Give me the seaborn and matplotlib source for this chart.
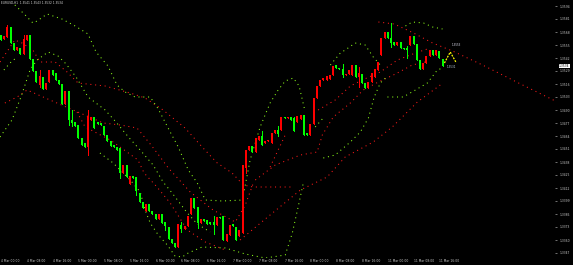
import numpy as np
import pandas as pd
import matplotlib
matplotlib.use("Agg")
import matplotlib.pyplot as plt
import seaborn as sns

# ---------------- data ----------------
opens = [1.3565,1.3561,1.3563,1.3573,1.3557,1.3550,1.3552,1.3546,1.3560,1.3565,
         1.3541,1.3529,1.3515,1.3523,1.3511,1.3518,1.3530,1.3527,1.3520,1.3516,
         1.3496,1.3509,1.3480,1.3478,1.3475,1.3462,1.3457,1.3453,1.3480,1.3483,
         1.3478,1.3477,1.3474,1.3465,1.3459,1.3455,1.3453,1.3452,1.3427,1.3435,
         1.3416,1.3424,1.3423,1.3407,1.3398,1.3389,1.3396,1.3389,1.3386,1.3381,
         1.3386,1.3378,1.3373,1.3361,1.3357,1.3353,1.3375,1.3371,1.3374,1.3386,
         1.3402,1.3393,1.3377,1.3381,1.3380,1.3378,1.3378,1.3375,1.3383,1.3384,
         1.3359,1.3365,1.3376,1.3373,1.3364,1.3367,1.3432,1.3450,1.3454,1.3448,
         1.3460,1.3464,1.3457,1.3459,1.3457,1.3467,1.3470,1.3470,1.3483,1.3482,
         1.3483,1.3482,1.3478,1.3481,1.3485,1.3467,1.3465,1.3476,1.3502,1.3514,
         1.3520,1.3520,1.3521,1.3525,1.3535,1.3532,1.3531,1.3525,1.3526,1.3525,
         1.3535,1.3523,1.3526,1.3517,1.3512,1.3518,1.3523,1.3530,1.3545,1.3562,
         1.3568,1.3562,1.3558,1.3555,1.3558,1.3552,1.3552,1.3555,1.3564,1.3556,
         1.3540,1.3531,1.3537,1.3544,1.3550,1.3545,1.3549,1.3541]
closes = [1.3560,1.3564,1.3573,1.3557,1.3550,1.3553,1.3546,1.3561,1.3565,1.3541,
          1.3529,1.3518,1.3524,1.3511,1.3517,1.3530,1.3525,1.3520,1.3516,1.3496,
          1.3509,1.3480,1.3477,1.3474,1.3462,1.3455,1.3453,1.3484,1.3483,1.3472,
          1.3476,1.3475,1.3465,1.3459,1.3454,1.3453,1.3450,1.3427,1.3435,1.3423,
          1.3424,1.3422,1.3409,1.3398,1.3392,1.3396,1.3389,1.3386,1.3381,1.3386,
          1.3377,1.3374,1.3361,1.3357,1.3353,1.3376,1.3371,1.3374,1.3384,1.3402,
          1.3392,1.3377,1.3381,1.3379,1.3376,1.3376,1.3375,1.3383,1.3382,1.3360,
          1.3366,1.3375,1.3374,1.3360,1.3370,1.3435,1.3450,1.3454,1.3448,1.3462,
          1.3464,1.3455,1.3459,1.3460,1.3467,1.3470,1.3466,1.3483,1.3482,1.3483,
          1.3480,1.3469,1.3484,1.3485,1.3465,1.3465,1.3476,1.3502,1.3514,1.3520,
          1.3522,1.3524,1.3525,1.3534,1.3532,1.3531,1.3525,1.3526,1.3530,1.3535,
          1.3523,1.3527,1.3517,1.3512,1.3518,1.3527,1.3531,1.3538,1.3562,1.3568,
          1.3562,1.3557,1.3555,1.3558,1.3552,1.3551,1.3550,1.3564,1.3556,1.3540,
          1.3531,1.3537,1.3544,1.3550,1.3545,1.3550,1.3542,1.3534]
highs = [1.3565,1.3564,1.3575,1.3573,1.3557,1.3553,1.3552,1.3565,1.3565,1.3565,
         1.3541,1.3529,1.3530,1.3523,1.3517,1.3530,1.3530,1.3527,1.3520,1.3516,
         1.3509,1.3509,1.3490,1.3478,1.3475,1.3462,1.3457,1.3490,1.3483,1.3483,
         1.3478,1.3477,1.3474,1.3465,1.3459,1.3455,1.3453,1.3452,1.3435,1.3435,
         1.3424,1.3424,1.3423,1.3407,1.3398,1.3396,1.3396,1.3389,1.3386,1.3386,
         1.3386,1.3378,1.3373,1.3361,1.3357,1.3376,1.3378,1.3374,1.3384,1.3402,
         1.3402,1.3393,1.3381,1.3381,1.3380,1.3378,1.3384,1.3383,1.3383,1.3384,
         1.3366,1.3375,1.3376,1.3373,1.3370,1.3435,1.3450,1.3454,1.3454,1.3462,
         1.3464,1.3469,1.3459,1.3460,1.3467,1.3470,1.3474,1.3483,1.3483,1.3483,
         1.3483,1.3483,1.3484,1.3485,1.3485,1.3467,1.3476,1.3502,1.3514,1.3520,
         1.3522,1.3524,1.3525,1.3534,1.3535,1.3532,1.3536,1.3526,1.3530,1.3535,
         1.3535,1.3533,1.3526,1.3517,1.3518,1.3527,1.3531,1.3538,1.3562,1.3568,
         1.3568,1.3577,1.3558,1.3558,1.3558,1.3552,1.3554,1.3564,1.3564,1.3556,
         1.3540,1.3537,1.3544,1.3550,1.3550,1.3550,1.3549,1.3541]
lows = [1.3560,1.3561,1.3563,1.3557,1.3550,1.3550,1.3546,1.3546,1.3560,1.3541,
        1.3529,1.3518,1.3513,1.3511,1.3511,1.3518,1.3525,1.3520,1.3516,1.3496,
        1.3496,1.3475,1.3474,1.3474,1.3462,1.3455,1.3453,1.3445,1.3480,1.3472,
        1.3476,1.3475,1.3465,1.3459,1.3454,1.3453,1.3450,1.3422,1.3427,1.3423,
        1.3416,1.3422,1.3405,1.3398,1.3392,1.3389,1.3389,1.3386,1.3381,1.3381,
        1.3377,1.3370,1.3361,1.3357,1.3353,1.3353,1.3368,1.3371,1.3374,1.3386,
        1.3392,1.3372,1.3377,1.3379,1.3376,1.3376,1.3366,1.3375,1.3382,1.3360,
        1.3359,1.3365,1.3374,1.3360,1.3364,1.3367,1.3427,1.3450,1.3448,1.3448,
        1.3460,1.3455,1.3457,1.3459,1.3457,1.3467,1.3464,1.3470,1.3482,1.3482,
        1.3480,1.3469,1.3478,1.3481,1.3465,1.3465,1.3465,1.3476,1.3502,1.3514,
        1.3520,1.3520,1.3521,1.3525,1.3532,1.3531,1.3523,1.3525,1.3526,1.3525,
        1.3523,1.3513,1.3517,1.3512,1.3512,1.3518,1.3523,1.3530,1.3545,1.3562,
        1.3562,1.3553,1.3555,1.3555,1.3552,1.3551,1.3542,1.3555,1.3556,1.3540,
        1.3531,1.3531,1.3537,1.3544,1.3545,1.3545,1.3542,1.3534]

# indicator lines: (bar, price)
red_line_1 = [(-0.3,1.3538),(4.3,1.3560),(6.5,1.3557),(9.9,1.3550),(12.1,1.3538),(16.8,1.3538),
              (20.5,1.3528),(23.9,1.3517),(32.3,1.3514),(40.1,1.3507),(44.7,1.3502),(50.3,1.3490),
              (57.1,1.3472),(62.7,1.3452),(67.1,1.3437),(71.7,1.3427),(75.2,1.3415),(78.3,1.3413),
              (89.8,1.3413)]
red_line_2 = [(1.2,1.3497),(5.0,1.3503),(8.1,1.3510),(15.2,1.3500),(31.7,1.3477),(37.0,1.3475),
              (42.2,1.3472),(46.3,1.3456),(49.4,1.3443),(51.9,1.3432),(55.9,1.3418),(58.7,1.3408),
              (65.8,1.3390),(72.7,1.3378),(75.8,1.3395),(78.3,1.3417)]
red_line_3 = [(23.6,1.3488),(26.1,1.3473),(33.9,1.3460),(39.1,1.3448),(42.5,1.3440),(44.4,1.3427),
              (48.4,1.3413),(52.5,1.3397),(57.8,1.3370),(63.4,1.3358),(69.6,1.3350)]
red_line_4 = [(74.2,1.3360),(83.5,1.3385),(92.9,1.3410),(101.2,1.3423),(106.8,1.3443),(115.5,1.3458),
              (121.4,1.3473),(129.2,1.3498),(136.3,1.3515)]
red_line_5 = [(78.9,1.3420),(85.1,1.3435),(92.9,1.3445),(98.1,1.3448),(99.7,1.3465),(103.1,1.3483),
              (108.4,1.3497),(112.4,1.3510),(117.1,1.3518),(122.4,1.3526),(127.6,1.3535),(131.7,1.3538)]
red_line_6 = [(98.4,1.3490),(103.7,1.3500),(108.4,1.3514),(112.1,1.3520),(117.7,1.3528),(123.0,1.3540),
              (128.6,1.3547),(133.2,1.3552)]
red_line_7 = [(117.1,1.3578),(122.0,1.3576),(128.0,1.3567),(133.9,1.3557),(140.1,1.3549),(149.4,1.3535),
              (160.6,1.3517),(172.0,1.3499)]
red_line_8 = [(83.5,1.3433),(88.2,1.3465)]

lime_line_1 = [(4.3,1.3595),(7.5,1.3585),(9.9,1.3577),(11.2,1.3579),(14.3,1.3586),(18.9,1.3581),
               (23.0,1.3574),(27.0,1.3566),(29.5,1.3548),(33.2,1.3534),(36.0,1.3515),(38.5,1.3508),
               (41.6,1.3503),(46.3,1.3503),(48.8,1.3491),(52.5,1.3468),(55.0,1.3453),(58.1,1.3430),
               (60.9,1.3417),(63.4,1.3400),(68.6,1.3399),(75.2,1.3400)]
lime_line_2 = [(75.2,1.3405),(77.3,1.3440),(80.4,1.3473),(83.5,1.3497),(86.0,1.3510),(88.2,1.3519),
               (90.7,1.3522),(92.5,1.3514),(94.1,1.3492)]
lime_line_3 = [(-0.3,1.3463),(3.4,1.3480),(6.2,1.3503),(9.0,1.3530),(11.2,1.3540),(14.6,1.3548),
               (17.7,1.3544),(20.2,1.3536),(23.3,1.3523),(27.0,1.3503),(32.3,1.3490),(35.4,1.3479),
               (39.8,1.3462),(42.9,1.3451),(47.2,1.3435),(50.3,1.3418),(53.1,1.3407),(57.8,1.3387),
               (60.9,1.3376),(64.9,1.3368)]
lime_line_4 = [(30.7,1.3447),(34.8,1.3437),(40.1,1.3420),(43.2,1.3408),(44.7,1.3390),(46.3,1.3377),
               (48.8,1.3365),(51.6,1.3355),(54.0,1.3344),(56.2,1.3343),(58.1,1.3347),(62.4,1.3353),
               (69.6,1.3352),(75.8,1.3346),(82.0,1.3342),(88.2,1.3345),(90.4,1.3367),(92.2,1.3393),
               (93.8,1.3417)]
lime_line_5 = [(100.0,1.3442),(103.7,1.3445),(108.4,1.3458),(111.5,1.3468),(114.0,1.3482),
               (115.8,1.3503),(117.7,1.3517),(119.3,1.3522)]
lime_line_6 = [(102.2,1.3535),(105.3,1.3547),(106.8,1.3550),(109.9,1.3557),(113.0,1.3555),
               (115.5,1.3543),(117.7,1.3535)]
lime_line_7 = [(125.5,1.3574),(127.6,1.3578),(131.1,1.3577),(133.9,1.3573),(137.0,1.3571)]
lime_line_8 = [(119.9,1.3503),(124.8,1.3503),(128.6,1.3510),(132.3,1.3517),(135.4,1.3530),(137.0,1.3532)]
lime_line_9 = [(0.9,1.3530),(2.8,1.3537),(5.0,1.3543)]
lime_line_10 = [(97.5,1.3473),(99.7,1.3481)]

zigzag = [(137.6,1.3537),(139.4,1.3548),(141.3,1.3537)]

price_ticks = [1.3594,1.3581,1.3568,1.3555,1.3542,1.3529,1.3516,1.3503,1.3490,1.3477,
               1.3464,1.3451,1.3438,1.3425,1.3412,1.3399,1.3386,1.3373,1.3360,1.3347]
date_tick_bars = [0,8,16,24,32,40,48,56,64,72,80,88,96,104,112,120,128,136]
date_labels = ["4 Mar 00:00","4 Mar 08:00","4 Mar 16:00","5 Mar 00:00","5 Mar 08:00",
               "5 Mar 16:00","6 Mar 00:00","6 Mar 08:00","6 Mar 16:00","7 Mar 00:00",
               "7 Mar 08:00","7 Mar 16:00","8 Mar 00:00","8 Mar 08:00","8 Mar 16:00",
               "11 Mar 00:00","11 Mar 08:00","11 Mar 16:00"]
title_text = "EURUSD,H1  1.3541 1.3543 1.3532 1.3534"
last_price = closes[-1]

# ---------------- figure ----------------
sns.set_theme(style="dark")
plt.rcParams['font.family'] = ['DejaVu Sans']

fig = plt.figure(figsize=(5.73, 2.65), dpi=100, facecolor='black')
ax = fig.add_axes([0, 7/265, 555/573, 258/265])
ax.set_facecolor('black')

df = pd.DataFrame({"open": opens, "close": closes, "high": highs, "low": lows})
df["bar"] = np.arange(len(df))
df["up"] = df["close"] > df["open"]
UP, DOWN = "#ff0000", "#00ff00"
colors = np.where(df["up"], UP, DOWN)

ax.vlines(df["bar"], df["low"], df["high"], colors=colors, linewidth=0.7, antialiased=False, zorder=3)
ax.bar(df["bar"], (df["close"] - df["open"]).abs(), bottom=df[["open", "close"]].min(axis=1),
       width=0.62, color=colors, linewidth=0, antialiased=False, zorder=4)

dot = (0, (1, 3.6))
def draw(points, color):
    b = [p[0] for p in points]
    v = [p[1] for p in points]
    sns.lineplot(x=b, y=v, ax=ax, color=color, linewidth=0.75, linestyle=dot,
                 estimator=None, sort=False, zorder=2)

for ln in [red_line_1, red_line_2, red_line_3, red_line_4, red_line_5, red_line_6, red_line_7, red_line_8]:
    draw(ln, "#ff1a1a")
for ln in [lime_line_1, lime_line_2, lime_line_3, lime_line_4, lime_line_5, lime_line_6,
           lime_line_7, lime_line_8, lime_line_9, lime_line_10]:
    draw(ln, "#8cff1a")
sns.lineplot(x=[p[0] for p in zigzag], y=[p[1] for p in zigzag], ax=ax, color="#ffff00",
             linewidth=0.9, linestyle=(0, (1.5, 1)), estimator=None, sort=False, zorder=5)

ax.set_xlim(-0.31, 171.9)
ax.set_ylim(1.3342, 1.3600)
ax.set_xlabel("")
ax.set_ylabel("")
for s in ax.spines.values():
    s.set_visible(False)
ax.grid(False)

ax.yaxis.tick_right()
ax.set_yticks(price_ticks)
ax.set_yticklabels([f"{v:.4f}" for v in price_ticks])
ax.tick_params(axis='y', colors='#c8c8c8', labelsize=2.2, length=1.2, width=0.4, pad=2.5, direction='out')
ax.set_xticks(date_tick_bars)
ax.set_xticklabels(date_labels)
ax.tick_params(axis='x', colors='#c8c8c8', labelsize=2.2, length=0, pad=1)
for t in ax.get_xticklabels():
    t.set_horizontalalignment('left')

ax.text(0.002, 0.995, title_text, transform=ax.transAxes, color='#e0e0e0', fontsize=2.1,
        ha='left', va='top')
ax.annotate(f"{last_price:.4f}", xy=(1.0, last_price), xycoords=('axes fraction', 'data'),
            xytext=(2.9, 0), textcoords='offset points', ha='left', va='center', fontsize=2.2,
            color='black', bbox=dict(boxstyle='square,pad=0.15', fc='white', ec='white', lw=0))
ax.text(zigzag[1][0] + 0.6, zigzag[1][1] + 0.0005, "1.3553", color='#dde', fontsize=2.0, ha='left', va='bottom')
ax.text(zigzag[0][0] + 0.6, zigzag[0][1] - 0.0002, "1.3531", color='#bcd', fontsize=2.0, ha='left', va='top')

fig.savefig("out.png", dpi=100, facecolor='black')
